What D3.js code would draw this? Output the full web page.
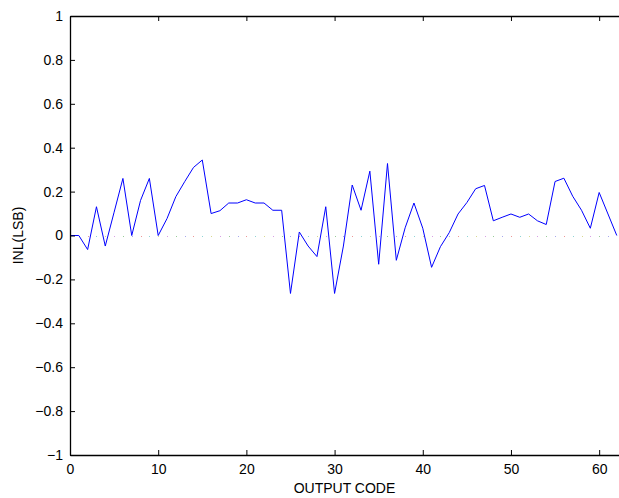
<!DOCTYPE html>
<html>
<head>
<meta charset="utf-8">
<script src="https://cdn.jsdelivr.net/npm/d3@7"></script>
<style>
  body { margin: 0; background: #fff; }
  svg { display: block; font-family: "Liberation Sans", Arial, sans-serif; }
</style>
</head>
<body>
<svg id="chart" width="619" height="498"></svg>
<script>
// INL per output code
var codes = d3.range(0, 63);
var inl = [0, 0, -0.064, 0.131, -0.048, 0.106, 0.26, 0, 0.16, 0.26,
  0, 0.077, 0.177, 0.245, 0.31, 0.344, 0.10, 0.113, 0.148, 0.148,
  0.163, 0.148, 0.148, 0.115, 0.115, -0.264, 0.016, -0.048, -0.096, 0.131,
  -0.264, -0.048, 0.23, 0.115, 0.293, -0.131, 0.328, -0.113, 0.035, 0.148,
  0.033, -0.145, -0.051, 0.013, 0.098, 0.15, 0.213, 0.228, 0.067, 0.083,
  0.098, 0.083, 0.098, 0.067, 0.05, 0.246, 0.261, 0.179, 0.115, 0.033,
  0.196, 0.098, 0];
var xTicks = [0, 10, 20, 30, 40, 50, 60];
var yTicks = [-1, -0.8, -0.6, -0.4, -0.2, 0, 0.2, 0.4, 0.6, 0.8, 1];
var dotColors = ['#a8a8ec', '#ec9898', '#90d4d4', '#d8d890', '#d8a0e4', '#98cc98'];

var svg = d3.select('#chart');
var plotLeft = 70, plotRight = 619, plotTop = 16, plotBottom = 455;

var x = d3.scaleLinear().domain([0, 62.25]).range([plotLeft, plotRight]);
var y = d3.scaleLinear().domain([-1, 1]).range([plotBottom, plotTop]);

function fmt(d) {
  return d < 0 ? '\u2212' + Math.abs(d) : String(d);
}

// zero reference dots
svg.append('g').selectAll('rect')
  .data(codes.slice(1, 62))
  .enter().append('rect')
  .attr('x', function (d) { return Math.round(x(d)); })
  .attr('y', Math.round(y(0)))
  .attr('width', 1)
  .attr('height', 1)
  .attr('fill', function (d, i) { return dotColors[i % dotColors.length]; });

// data line
var line = d3.line()
  .x(function (d, i) { return x(codes[i]); })
  .y(function (d) { return y(d); });

svg.append('path')
  .datum(inl)
  .attr('d', line)
  .attr('fill', 'none')
  .attr('stroke', '#0000ff')
  .attr('stroke-width', 1);

// axes (ticks inward, MATLAB style)
var axisStyle = function (g) {
  g.attr('font-family', null);
  g.select('.domain').attr('stroke', '#000').attr('stroke-width', 1.3);
  g.selectAll('.tick line').attr('stroke', '#000');
  g.selectAll('.tick text').attr('fill', '#000').style('font-size', '14px');
};

svg.append('g')
  .attr('transform', 'translate(0,' + plotBottom + ')')
  .call(d3.axisBottom(x).tickValues(xTicks).tickSizeInner(-5).tickSizeOuter(0).tickPadding(9).tickFormat(fmt))
  .call(axisStyle);

svg.append('g')
  .attr('transform', 'translate(0,' + plotTop + ')')
  .call(d3.axisTop(x).tickValues(xTicks).tickSizeInner(-5).tickSizeOuter(0).tickFormat(''))
  .call(axisStyle);

svg.append('g')
  .attr('transform', 'translate(' + plotLeft + ',0)')
  .call(d3.axisLeft(y).tickValues(yTicks).tickSizeInner(-5).tickSizeOuter(0).tickPadding(7).tickFormat(fmt))
  .call(axisStyle);

// axis labels
svg.append('text')
  .attr('x', (plotLeft + 619) / 2)
  .attr('y', 493)
  .attr('text-anchor', 'middle')
  .style('font-size', '14px')
  .text('OUTPUT CODE');

svg.append('text')
  .attr('transform', 'translate(23,' + y(0) + ') rotate(-90)')
  .attr('text-anchor', 'middle')
  .style('font-size', '14px')
  .text('INL(LSB)');
</script>
</body>
</html>
